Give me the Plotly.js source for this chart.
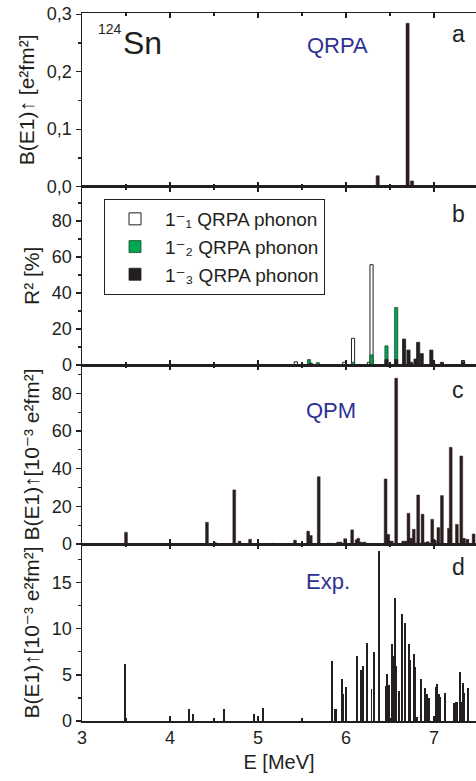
<!DOCTYPE html>
<html>
<head>
<meta charset="utf-8">
<script src="https://cdn.plot.ly/plotly-3.0.1.min.js"></script>
<style>html,body{margin:0;padding:0;background:#fff;}</style>
</head>
<body>
<div id="chart" style="width:476px;height:781px;"></div>
<script>
// Panel a: QRPA
const qrpaE = [6.36, 6.70, 6.75];
const qrpaB = [0.019, 0.284, 0.010];

// Panel b: R^2 of QRPA phonon components
const ph1E = [5.43, 5.98, 6.08, 6.26, 6.29, 7.33];
const ph1R = [1.8, 1.5, 14.8, 1.5, 55.7, 2.5];
const ph2E = [5.58, 5.68, 6.08, 6.29, 6.46, 6.57];
const ph2R = [3.0, 1.3, 1.5, 5.6, 10.6, 31.9];
const ph3E = [5.60, 6.46, 6.57, 6.66, 6.71, 6.74, 6.79, 6.82, 6.86, 6.97, 6.99, 7.09, 7.33];
const ph3R = [1.0, 3.0, 3.0, 14.4, 8.3, 1.5, 3.3, 12.6, 6.3, 8.3, 2.0, 1.5, 1.8];

// Panel c: QPM
const qpmE = [3.50, 4.42, 4.51, 4.73, 4.79, 4.91, 5.17, 5.42, 5.57, 5.60, 5.69, 5.80, 5.84, 5.91, 5.94,
              5.99, 6.07, 6.12, 6.14, 6.17, 6.21, 6.45, 6.48, 6.52, 6.57, 6.65, 6.68, 6.71, 6.74, 6.77,
              6.80, 6.82, 6.87, 6.90, 6.93, 6.98, 7.01, 7.05, 7.09, 7.17, 7.19, 7.26, 7.31, 7.34, 7.38, 7.45];
const qpmB = [6.2, 11.5, 0.8, 28.7, 1.5, 2.5, 0.4, 2.0, 6.8, 4.5, 35.7, 0.4, 0.4, 1.0, 1.0,
              2.8, 7.5, 2.2, 3.0, 1.0, 1.0, 34.5, 5.1, 1.5, 88.0, 1.5, 1.5, 16.3, 3.0, 7.8,
              0.5, 26.0, 15.8, 0.8, 1.2, 13.1, 2.0, 8.7, 25.7, 8.3, 51.3, 10.4, 46.7, 3.0, 2.5, 5.3];

// Panel d: Experiment
const expE = [3.49, 4.22, 4.26, 4.61, 4.95, 5.06,
              5.84, 5.87, 5.89, 5.95, 5.97, 6.00, 6.13, 6.17, 6.19, 6.24, 6.29, 6.32, 6.37,
              6.45, 6.47, 6.49, 6.52, 6.53, 6.56, 6.57, 6.60, 6.64, 6.67, 6.72, 6.73, 6.77, 6.79,
              6.81, 6.85, 6.90, 6.92, 6.94, 7.02, 7.03, 7.04, 7.06, 7.07, 7.13, 7.23, 7.25, 7.26,
              7.30, 7.32, 7.33, 7.34, 7.39];
const expB = [6.2, 1.35, 0.8, 1.35, 0.8, 1.45,
              6.5, 1.35, 1.25, 4.6, 2.9, 3.7, 7.0, 5.5, 6.0, 8.5, 3.5, 7.5, 18.4,
              3.8, 5.1, 3.9, 8.4, 7.1, 13.3, 6.0, 3.3, 11.6, 10.6, 8.4, 6.6, 7.3, 5.9,
              0.4, 4.6, 3.6, 2.9, 2.5, 3.7, 4.0, 1.5, 2.9, 2.6, 3.0, 2.0, 2.1, 2.1,
              5.3, 2.1, 4.1, 3.0, 3.6];

const seriesNames = ['1⁻₁ QRPA phonon', '1⁻₂ QRPA phonon', '1⁻₃ QRPA phonon'];
const xTickVals = [3, 4, 5, 6, 7];

const INK = '#231f20';
const BLUE = '#2e3192';
const GREEN = '#00a651';
const FONT = 'Liberation Sans, Arial, Helvetica, DejaVu Sans, sans-serif';

const L = 82, T = 13, B = 60, W = 476, H = 781;
const plotH = H - T - B;
const px = v => (v - L) / (W - L);
const py = v => (H - B - v) / plotH;

const dA = [py(186.7), 1];
const dB = [py(365), py(186.7)];
const dC = [py(544), py(365)];
const dD = [0, py(544)];

const traces = [
  {type: 'bar', x: qrpaE, y: qrpaB, width: 0.035, xaxis: 'x', yaxis: 'y', showlegend: false,
   marker: {color: INK, line: {color: '#4a1f1f', width: 0.6}}},
  {type: 'bar', x: ph1E, y: ph1R, width: 0.036, xaxis: 'x2', yaxis: 'y2', name: seriesNames[0],
   marker: {color: '#ffffff', line: {color: INK, width: 1}}},
  {type: 'bar', x: ph2E, y: ph2R, width: 0.036, xaxis: 'x2', yaxis: 'y2', name: seriesNames[1],
   marker: {color: GREEN, line: {color: '#1d4d30', width: 0.8}}},
  {type: 'bar', x: ph3E, y: ph3R, width: 0.036, xaxis: 'x2', yaxis: 'y2', name: seriesNames[2],
   marker: {color: INK, line: {color: INK, width: 0.8}}},
  {type: 'bar', x: qpmE, y: qpmB, width: 0.032, xaxis: 'x3', yaxis: 'y3', showlegend: false,
   marker: {color: INK, line: {color: '#3e1c1c', width: 0.5}}},
  {type: 'bar', x: expE, y: expB, width: 0.022, xaxis: 'x4', yaxis: 'y4', showlegend: false,
   marker: {color: INK, line: {width: 0}}}
];

function xAx(anchor, last) {
  const ax = {
    anchor: anchor, domain: [0, 1], range: [3, 3 + (W - L) / 88],
    showline: true, linecolor: INK, linewidth: 1.5, mirror: 'ticks',
    ticks: 'inside', ticklen: 5, tickwidth: 1.2, tickcolor: INK,
    tickvals: xTickVals, showgrid: false, zeroline: false,
    minor: {dtick: 0.5, ticks: 'inside', ticklen: 3, tickwidth: 1.2, tickcolor: INK, showgrid: false},
    showticklabels: !!last,
    tickfont: {family: FONT, size: 18, color: INK}
  };
  if (anchor !== 'y') ax.matches = 'x';
  if (last) {
    ax.title = {text: 'E [MeV]', font: {family: FONT, size: 20, color: INK}, standoff: 8};
    ax.ticklabelstandoff = 0;
  }
  return ax;
}

function yAx(domain, range, dtick, minorDtick, title, extra) {
  return Object.assign({
    domain: domain, range: range, dtick: dtick, tick0: 0,
    showline: true, linecolor: INK, linewidth: 1.5,
    ticks: 'outside', ticklen: 5, tickwidth: 1.2, tickcolor: INK,
    minor: {dtick: minorDtick, ticks: 'outside', ticklen: 3, tickwidth: 1.2, tickcolor: INK, showgrid: false},
    showgrid: false, zeroline: false, fixedrange: true,
    tickfont: {family: FONT, size: 18, color: INK},
    title: {text: title, font: {family: FONT, size: 21, color: INK}, standoff: 6}
  }, extra || {});
}

function yRight(over, anchor, range, dtick, minorDtick) {
  return {
    overlaying: over, anchor: anchor, side: 'right', range: range, dtick: dtick, tick0: 0,
    showline: false, showticklabels: false, showgrid: false, zeroline: false,
    ticks: 'inside', ticklen: 5, tickwidth: 1.2, tickcolor: INK,
    minor: {dtick: minorDtick, ticks: 'inside', ticklen: 3, tickwidth: 1.2, tickcolor: INK, showgrid: false}
  };
}

const arrow = '<b>↑</b>';
const layout = {
  width: W, height: H,
  margin: {l: L, r: 0, t: T, b: B, pad: 0},
  paper_bgcolor: '#ffffff', plot_bgcolor: 'rgba(0,0,0,0)',
  separators: ', ',
  barmode: 'overlay', bargap: 0,
  font: {family: FONT, color: INK},
  xaxis: xAx('y'), xaxis2: xAx('y2'), xaxis3: xAx('y3'), xaxis4: xAx('y4', true),
  yaxis: yAx(dA, [0, 0.302], 0.1, 0.05, 'B(E1)' + arrow + ' [e²fm²]', {tickformat: '.1f'}),
  yaxis2: yAx(dB, [0, 99], 20, 10, 'R² [%]'),
  yaxis3: yAx(dC, [0, 95], 20, 10, 'B(E1)' + arrow + '[10⁻³ e²fm²]'),
  yaxis4: yAx(dD, [0, 19.2], 5, 2.5, 'B(E1)' + arrow + '[10⁻³ e²fm²]'),
  yaxis5: yRight('y', 'x', [0, 0.302], 0.1, 0.05),
  yaxis6: yRight('y2', 'x2', [0, 99], 20, 10),
  yaxis7: yRight('y3', 'x3', [0, 95], 20, 10),
  yaxis8: yRight('y4', 'x4', [0, 19.2], 5, 2.5),
  showlegend: true,
  legend: {
    x: px(104), y: py(199), xanchor: 'left', yanchor: 'top',
    bgcolor: '#ffffff', bordercolor: INK, borderwidth: 1,
    font: {family: FONT, size: 19, color: INK},
    itemwidth: 50, tracegroupgap: 6, traceorder: 'normal'
  },
  annotations: [
    {xref: 'paper', yref: 'paper', x: px(96), y: py(29), xanchor: 'left', yanchor: 'middle',
     text: '124', showarrow: false, font: {family: FONT, size: 14, color: INK}},
    {xref: 'paper', yref: 'paper', x: px(121), y: py(43), xanchor: 'left', yanchor: 'middle',
     text: 'Sn', showarrow: false, font: {family: FONT, size: 32, color: INK}},
    {xref: 'paper', yref: 'paper', x: px(305), y: py(46), xanchor: 'left', yanchor: 'middle',
     text: 'QRPA', showarrow: false, font: {family: FONT, size: 22, color: BLUE}},
    {xref: 'paper', yref: 'paper', x: px(304), y: py(410), xanchor: 'left', yanchor: 'middle',
     text: 'QPM', showarrow: false, font: {family: FONT, size: 22, color: BLUE}},
    {xref: 'paper', yref: 'paper', x: px(304), y: py(581), xanchor: 'left', yanchor: 'middle',
     text: 'Exp.', showarrow: false, font: {family: FONT, size: 22, color: BLUE}},
    {xref: 'paper', yref: 'paper', x: px(458), y: py(34), xanchor: 'center', yanchor: 'middle',
     text: 'a', showarrow: false, font: {family: FONT, size: 23, color: INK}},
    {xref: 'paper', yref: 'paper', x: px(458), y: py(214), xanchor: 'center', yanchor: 'middle',
     text: 'b', showarrow: false, font: {family: FONT, size: 23, color: INK}},
    {xref: 'paper', yref: 'paper', x: px(458), y: py(390), xanchor: 'center', yanchor: 'middle',
     text: 'c', showarrow: false, font: {family: FONT, size: 23, color: INK}},
    {xref: 'paper', yref: 'paper', x: px(458), y: py(567), xanchor: 'center', yanchor: 'middle',
     text: 'd', showarrow: false, font: {family: FONT, size: 23, color: INK}}
  ]
};

Plotly.newPlot('chart', traces, layout, {staticPlot: true, displayModeBar: false});
</script>
</body>
</html>
